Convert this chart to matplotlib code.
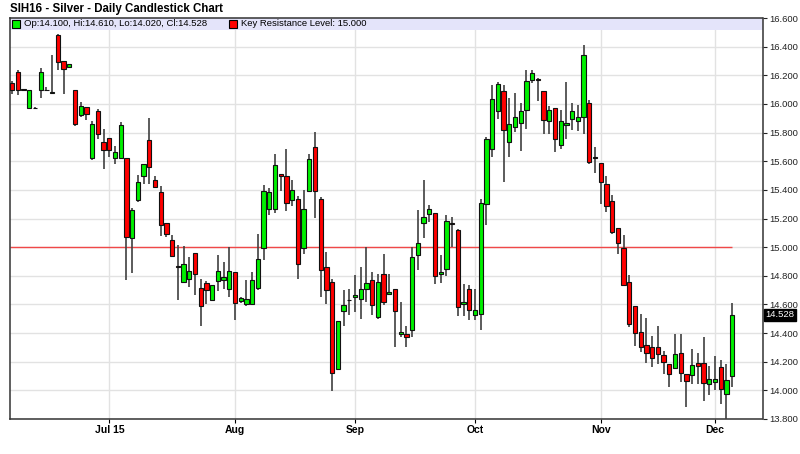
import numpy as np
import pandas as pd
import matplotlib
matplotlib.use("Agg")
import matplotlib.pyplot as plt
from matplotlib.patches import Rectangle
from matplotlib.transforms import blended_transform_factory

plt.rcParams['font.family'] = ['Liberation Sans', 'DejaVu Sans']

# Trading days, Jun 8 - Dec 4 2015 (exchange holidays removed)
dates = pd.bdate_range("2015-06-08", "2015-12-04")
dates = dates.drop(pd.to_datetime(["2015-07-03", "2015-09-07", "2015-11-26"]))

opens = [16.148, 16.225, 16.098, 15.975, 15.975, 16.096, 16.100, 16.073, 16.481, 16.300,
         16.257, 16.100, 15.922, 15.980, 15.619, 15.952, 15.731, 15.765, 15.619, 15.619,
         15.619, 15.064, 15.327, 15.495, 15.747, 15.467, 15.386, 15.171, 15.047, 14.867,
         14.754, 14.775, 14.961, 14.716, 14.749, 14.628, 14.761, 14.772, 14.707, 14.826,
         14.621, 14.600, 14.600, 14.716, 14.994, 15.269, 15.269, 15.509, 15.497, 15.327,
         15.339, 14.994, 15.390, 15.696, 15.339, 14.861, 14.756, 14.150, 14.551, 14.634,
         14.651, 14.639, 14.709, 14.768, 14.511, 14.810, 14.675, 14.710, 14.395, 14.395,
         14.418, 14.947, 15.169, 15.234, 15.239, 14.810, 14.845, 15.166, 15.117, 14.600,
         14.710, 14.523, 14.535, 15.300, 15.684, 15.950, 16.089, 15.735, 15.840, 15.870,
         15.961, 16.166, 16.173, 16.089, 15.880, 15.973, 15.712, 15.852, 15.894, 15.880,
         15.910, 16.003, 15.630, 15.591, 15.439, 15.323, 15.136, 14.994, 14.756, 14.586,
         14.407, 14.320, 14.306, 14.300, 14.250, 14.185, 14.157, 14.262, 14.115, 14.110,
         14.190, 14.190, 14.041, 14.057, 14.162, 13.975, 14.100]
highs = [16.160, 16.240, 16.105, 16.100, 15.978, 16.253, 16.120, 16.341, 16.485, 16.300,
         16.280, 16.100, 16.015, 15.980, 15.880, 15.968, 15.828, 15.765, 15.705, 15.875,
         15.620, 15.270, 15.502, 15.584, 15.905, 15.495, 15.430, 15.171, 15.087, 15.017,
         15.008, 14.931, 14.961, 14.775, 14.767, 14.737, 14.942, 14.896, 15.001, 14.826,
         14.650, 14.768, 14.826, 15.089, 15.432, 15.416, 15.649, 15.510, 15.682, 15.467,
         15.360, 15.397, 15.649, 15.805, 15.350, 14.966, 14.775, 14.483, 14.702, 14.709,
         14.803, 14.861, 15.001, 14.826, 14.814, 14.954, 14.814, 14.710, 14.616, 14.446,
         15.001, 15.257, 15.467, 15.292, 15.239, 14.943, 15.222, 15.210, 15.130, 14.740,
         14.733, 14.710, 15.339, 15.770, 16.131, 16.155, 16.131, 16.038, 16.078, 16.008,
         16.236, 16.236, 16.180, 16.089, 15.985, 15.973, 15.957, 16.155, 16.003, 15.992,
         16.411, 16.026, 15.700, 15.591, 15.495, 15.362, 15.136, 15.087, 14.803, 14.586,
         14.530, 14.507, 14.383, 14.446, 14.278, 14.185, 14.395, 14.395, 14.115, 14.290,
         14.260, 14.372, 14.173, 14.243, 14.209, 14.185, 14.610]
lows = [16.070, 16.060, 16.095, 15.975, 15.968, 16.038, 16.098, 16.068, 16.236, 16.069,
        16.255, 15.845, 15.910, 15.887, 15.610, 15.758, 15.549, 15.630, 15.579, 15.615,
        14.772, 14.820, 15.316, 15.444, 15.444, 15.420, 15.075, 15.071, 14.930, 14.628,
        14.750, 14.721, 14.663, 14.448, 14.600, 14.628, 14.693, 14.709, 14.651, 14.493,
        14.610, 14.586, 14.600, 14.698, 14.912, 15.222, 15.239, 15.393, 15.253, 15.288,
        14.779, 14.954, 15.390, 15.206, 14.651, 14.604, 13.994, 14.150, 14.446, 14.523,
        14.546, 14.499, 14.616, 14.523, 14.500, 14.593, 14.663, 14.302, 14.372, 14.306,
        14.372, 14.842, 15.066, 15.176, 14.745, 14.749, 14.798, 15.000, 14.516, 14.516,
        14.488, 14.493, 14.423, 15.152, 15.626, 15.894, 15.455, 15.630, 15.805, 15.672,
        15.828, 16.143, 16.022, 15.793, 15.793, 15.665, 15.684, 15.758, 15.821, 15.812,
        15.793, 15.584, 15.518, 15.299, 15.246, 15.094, 14.954, 14.728, 14.442, 14.313,
        14.267, 14.190, 14.162, 14.185, 14.115, 14.022, 14.150, 14.057, 13.882, 14.045,
        14.045, 13.929, 13.971, 14.000, 13.905, 13.800, 14.020]
closes = [16.096, 16.096, 16.102, 16.100, 15.972, 16.225, 16.100, 16.085, 16.290, 16.243,
          16.278, 15.863, 15.985, 15.933, 15.863, 15.793, 15.677, 15.677, 15.665, 15.856,
          15.071, 15.262, 15.455, 15.584, 15.560, 15.420, 15.152, 15.089, 14.935, 14.863,
          14.884, 14.830, 14.810, 14.588, 14.702, 14.737, 14.835, 14.791, 14.835, 14.609,
          14.646, 14.639, 14.772, 14.919, 15.390, 15.386, 15.577, 15.497, 15.311, 15.397,
          14.884, 15.269, 15.612, 15.390, 14.842, 14.698, 14.120, 14.483, 14.593, 14.630,
          14.663, 14.709, 14.749, 14.593, 14.760, 14.616, 14.686, 14.553, 14.407, 14.372,
          14.931, 15.031, 15.211, 15.269, 14.798, 14.825, 15.180, 15.162, 14.581, 14.616,
          14.563, 14.558, 15.309, 15.752, 16.031, 16.136, 15.817, 15.863, 15.910, 15.952,
          16.162, 16.213, 16.166, 15.891, 15.961, 15.758, 15.882, 15.868, 15.952, 15.910,
          16.341, 15.595, 15.619, 15.455, 15.288, 15.106, 15.031, 14.738, 14.460, 14.402,
          14.306, 14.262, 14.227, 14.255, 14.197, 14.115, 14.255, 14.122, 14.064, 14.180,
          14.173, 14.050, 14.080, 14.080, 14.010, 14.073, 14.528]

resistance = 15.0
title = "SIH16 - Silver - Daily Candlestick Chart"

o = np.array(opens)
h = np.array(highs)
l = np.array(lows)
c = np.array(closes)
x = np.arange(len(o))
up = c >= o
colors = np.where(up, "#00f000", "#ff0000")

fig = plt.figure(figsize=(8, 4.54), dpi=100)
ax = fig.add_axes([9.5 / 800, 35 / 454, 753 / 800, 401 / 454])

# grid
yticks = np.round(np.arange(13.8, 16.61, 0.2), 1)
month_pos = [i for i in range(1, len(dates)) if dates[i].month != dates[i - 1].month]
month_lab = [dates[i].strftime("%b") for i in month_pos]
month_lab[0] = dates[month_pos[0]].strftime("%b %y")
for yv in yticks:
    ax.axhline(yv, color="#e2e2e2", lw=1, zorder=0)
for xv in month_pos:
    ax.axvline(xv, color="#e2e2e2", lw=1, zorder=0)

# legend band
ax.add_patch(Rectangle((0, 1 - 11.5 / 401), 1, 11.5 / 401, transform=ax.transAxes,
                       facecolor="#e4e4fa", edgecolor="none", zorder=1))

# resistance line
ax.hlines(resistance, -0.47, x[-1], color="#f04848", lw=1, zorder=2)

# candles
ax.vlines(x, l, h, color="#404040", lw=1.2, zorder=3)
ax.bar(x, np.abs(c - o), bottom=np.minimum(o, c), width=0.75, color=colors,
       edgecolor="#111111", linewidth=0.8, zorder=4)

ax.set_xlim(-0.47, 131.3)
ax.set_ylim(13.8, 16.6)
ax.yaxis.tick_right()
ax.set_yticks(yticks)
ax.set_yticklabels(["%.3f" % v for v in yticks])
ax.set_xticks(month_pos)
ax.set_xticklabels(month_lab, fontweight="bold")
ax.tick_params(axis="y", direction="out", length=3, labelsize=6.8, pad=2, colors="#222222")
ax.tick_params(axis="x", direction="out", length=3, labelsize=7.5, pad=1.5)
for s in ax.spines.values():
    s.set_color("#333333")
    s.set_linewidth(1.1)

# legend entries
ly = 1 - 6 / 401
ax.plot([(16 - 9.5) / 753], [ly], marker="s", ms=5.5, mfc="#00f000", mec="black", mew=0.8,
        transform=ax.transAxes, clip_on=False, zorder=6)
ax.text((24 - 9.5) / 753, ly, "Op:%.3f, Hi:%.3f, Lo:%.3f, Cl:%.3f" % (o[-1], h[-1], l[-1], c[-1]),
        transform=ax.transAxes, va="center", ha="left", fontsize=6.8, zorder=6)
ax.plot([(233 - 9.5) / 753], [ly], marker="s", ms=5.5, mfc="#ff0000", mec="black", mew=0.8,
        transform=ax.transAxes, clip_on=False, zorder=6)
ax.text((241 - 9.5) / 753, ly, "Key Resistance Level: %.3f" % resistance,
        transform=ax.transAxes, va="center", ha="left", fontsize=6.8, zorder=6)

# last price box
tr = blended_transform_factory(ax.transAxes, ax.transData)
ax.text(1.004, c[-1], "%.3f" % c[-1], transform=tr, va="center", ha="left", fontsize=6.8,
        color="white", bbox=dict(boxstyle="square,pad=0.15", facecolor="black", edgecolor="black"))

fig.text(10 / 800, 1 - 9 / 454, title, fontsize=8.3, fontweight="bold", va="center", ha="left")

fig.savefig("out.png", dpi=100)
